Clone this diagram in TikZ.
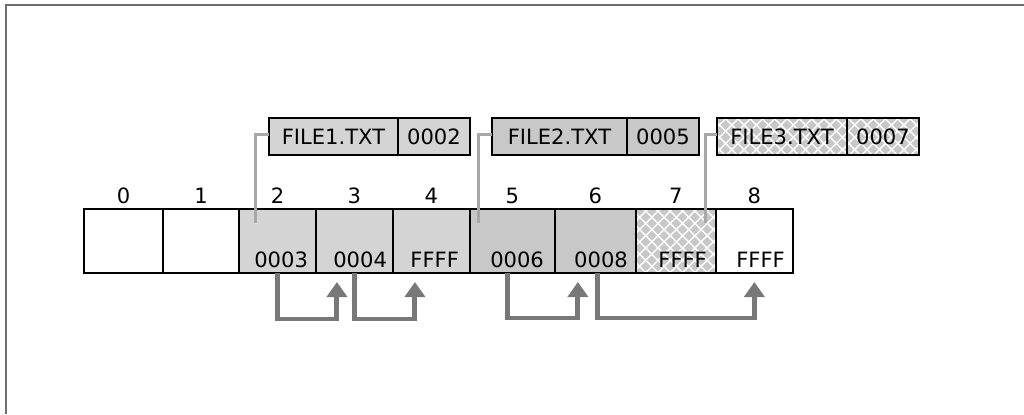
\documentclass[tikz,border=0pt]{standalone}
\usepackage{fontspec}
\setmainfont{DejaVu Sans}
\usetikzlibrary{arrows.meta, positioning, patterns}
\definecolor{fatlight}{HTML}{D4D4D4}
\definecolor{fatmid}{HTML}{C8C8C8}
\definecolor{fatwire}{HTML}{A8A8A8}
\definecolor{fatarrow}{HTML}{787878}
\definecolor{fatframe}{HTML}{6E6E6E}

% diagonal cross hatching for the last cluster of FILE3
\pgfdeclarepatternformonly{diagcross}{\pgfqpoint{-0.5pt}{-0.5pt}}{\pgfqpoint{7.5pt}{7.5pt}}{\pgfqpoint{7pt}{7pt}}{
  \pgfsetlinewidth{0.8pt}
  \pgfpathmoveto{\pgfqpoint{0pt}{0pt}}\pgfpathlineto{\pgfqpoint{7pt}{7pt}}
  \pgfpathmoveto{\pgfqpoint{0pt}{7pt}}\pgfpathlineto{\pgfqpoint{7pt}{0pt}}
  \pgfusepath{stroke}}

\begin{document}
\begin{tikzpicture}[x=0.02cm, y=0.02cm,
        cell/.style={draw, line width=0.8pt, minimum height=1.28cm, outer sep=0pt, inner sep=0pt},
        idx/.style={font=\fontsize{12}{14}\selectfont, inner sep=0pt, outer sep=0pt, anchor=base},
        val/.style={font=\fontsize{12}{14}\selectfont, inner sep=0pt, outer sep=0pt, anchor=base east},
        entry/.style={draw, line width=0.8pt, minimum height=0.74cm, outer sep=0pt, inner sep=0pt, font=\fontsize{12}{14}\selectfont},
        hatched/.style={preaction={fill=fatmid}, pattern=diagcross, pattern color=white},
        ptr/.style={fatwire, line width=1.7pt},
        link/.style={fatarrow, line width=2.8pt, -{Triangle[width=0.4cm,length=0.3cm]}}
    ]
        \useasboundingbox (0,0) rectangle (1024,414);
        \draw [fatframe, line width=1.2pt] (6,0) |- (1024,409);

        % cluster table
        \node (c0) [cell, minimum width=1.58cm, anchor=south west] at (84,141) {};
        \node (c1) [cell, minimum width=1.52cm, right=0pt of c0] {};
        \node (c2) [cell, minimum width=1.54cm, fill=fatlight, right=0pt of c1] {};
        \node (c3) [cell, minimum width=1.54cm, fill=fatlight, right=0pt of c2] {};
        \node (c4) [cell, minimum width=1.54cm, fill=fatlight, right=0pt of c3] {};
        \node (c5) [cell, minimum width=1.70cm, fill=fatmid, right=0pt of c4] {};
        \node (c6) [cell, minimum width=1.62cm, fill=fatmid, right=0pt of c5] {};
        \node (c7) [cell, minimum width=1.60cm, hatched, right=0pt of c6] {};
        \node (c8) [cell, minimum width=1.54cm, right=0pt of c7] {};

        \node (n0) [idx] at ([yshift=0.12cm]c0.north) {0};
        \node (n1) [idx] at ([yshift=0.12cm]c1.north) {1};
        \node (n2) [idx] at ([yshift=0.12cm]c2.north) {2};
        \node (n3) [idx] at ([yshift=0.12cm]c3.north) {3};
        \node (n4) [idx] at ([yshift=0.12cm]c4.north) {4};
        \node (n5) [idx] at ([yshift=0.12cm]c5.north) {5};
        \node (n6) [idx] at ([yshift=0.12cm]c6.north) {6};
        \node (n7) [idx] at ([yshift=0.12cm]c7.north) {7};
        \node (n8) [idx] at ([yshift=0.12cm]c8.north) {8};

        \node (v2) [val] at ([shift={(-0.16cm,0.12cm)}]c2.south east) {0003};
        \node (v3) [val] at ([shift={(-0.12cm,0.12cm)}]c3.south east) {0004};
        \node (v4) [val] at ([shift={(-0.22cm,0.12cm)}]c4.south east) {FFFF};
        \node (v5) [val] at ([shift={(-0.22cm,0.12cm)}]c5.south east) {0006};
        \node (v6) [val] at ([shift={(-0.16cm,0.12cm)}]c6.south east) {0008};
        \node (v7) [val] at ([shift={(-0.18cm,0.12cm)}]c7.south east) {FFFF};
        \node (v8) [val] at ([shift={(-0.16cm,0.12cm)}]c8.south east) {FFFF};

        % directory entries
        \node (f1) [entry, minimum width=2.58cm, fill=fatlight, anchor=south west] at (269,259) {FILE1.TXT};
        \node (k1) [entry, minimum width=1.44cm, fill=fatlight, right=0pt of f1] {0002};
        \node (f2) [entry, minimum width=2.70cm, fill=fatmid, anchor=south west] at (492,259) {FILE2.TXT};
        \node (k2) [entry, minimum width=1.44cm, fill=fatmid, right=0pt of f2] {0005};
        \node (f3) [entry, minimum width=2.60cm, hatched, anchor=south west] at (717,259) {FILE3.TXT};
        \node (k3) [entry, minimum width=1.44cm, hatched, right=0pt of f3] {0007};

        \coordinate (p1) at ([shift={(0.34cm,-0.28cm)}]c2.north west);
        \coordinate (p2) at ([shift={(0.18cm,-0.28cm)}]c5.north west);
        \coordinate (p3) at ([shift={(1.40cm,-0.28cm)}]c7.north west);
        \draw [ptr] ([yshift=0.05cm]f1.west) -| (p1);
        \draw [ptr] ([yshift=0.05cm]f2.west) -| (p2);
        \draw [ptr] ([yshift=0.05cm]f3.west) -| (p3);

        % chains
        \draw [link] (c2.south) -- ++(0,-46) -| ([shift={(0.42cm,-0.18cm)}]c3.south west);
        \draw [link] (c3.south) -- ++(0,-46) -| ([shift={(0.44cm,-0.18cm)}]c4.south west);
        \draw [link] ([xshift=-0.1cm]c5.south) -- ++(0,-45) -| ([shift={(0.46cm,-0.18cm)}]c6.south west);
        \draw [link] ([xshift=0.05cm]c6.south) -- ++(0,-45) -| ([yshift=-0.18cm]c8.south);
    \end{tikzpicture}
\end{document}
